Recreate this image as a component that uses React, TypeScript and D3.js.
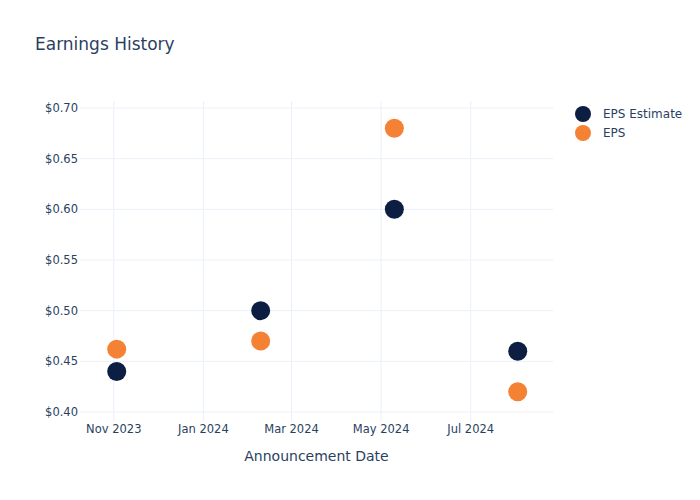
import React from "react";
import * as d3 from "d3";

const dates = ["2023-11-03", "2024-02-09", "2024-05-10", "2024-08-02"];
const epsEstimate = [0.44, 0.5, 0.6, 0.46];
const eps = [0.462, 0.47, 0.68, 0.42];
const yTicks = [0.4, 0.45, 0.5, 0.55, 0.6, 0.65, 0.7];
const xTickDates = ["2023-11-01", "2024-01-01", "2024-03-01", "2024-05-01", "2024-07-01"];
const seriesNames = ["EPS Estimate", "EPS"];
const colors = ["#0c1f43", "#f58234"];

const W = 700, H = 500;
const left = 80, right = 553, top = 101, bottom = 421;
const parse = d3.utcParse("%Y-%m-%d");

export default function App() {
  const x = d3.scaleUtc()
    .domain([parse("2023-10-09")!, parse("2024-08-26")!])
    .range([left, right]);
  const y = d3.scaleLinear().domain([0.3911, 0.7069]).range([bottom, top]);
  const fmtX = d3.utcFormat("%b %Y");
  const font = "'DejaVu Sans', Verdana, sans-serif";
  const txt = "#2a3f5f";
  const series = [epsEstimate, eps];
  return (
    <svg width={W} height={H} style={{ position: "absolute", left: 0, top: 0, background: "#fff" }} fontFamily={font}>
      <text x={35} y={50} fontSize={17} fill={txt}>Earnings History</text>
      {xTickDates.map((d) => {
        const xx = x(parse(d)!);
        return (
          <g key={d}>
            <line x1={xx} x2={xx} y1={top} y2={bottom} stroke="#ebf0f8" strokeWidth={1} />
            <text x={xx} y={433} fontSize={11.5} fill={txt} textAnchor="middle">{fmtX(parse(d)!)}</text>
          </g>
        );
      })}
      {yTicks.map((t) => (
        <g key={t}>
          <line x1={left} x2={right} y1={y(t)} y2={y(t)} stroke="#ebf0f8" strokeWidth={1} />
          <text x={left - 2} y={y(t) + 4} fontSize={11.5} fill={txt} textAnchor="end">{"$" + t.toFixed(2)}</text>
        </g>
      ))}
      {series.map((s, si) => (
        <g key={si}>
          {s.map((v, i) => (
            <circle key={i} cx={x(parse(dates[i])!)} cy={y(v)} r={9.5} fill={colors[si]} />
          ))}
        </g>
      ))}
      <text x={(left + right) / 2} y={461} fontSize={14} fill={txt} textAnchor="middle">Announcement Date</text>
      {seriesNames.map((n, i) => (
        <g key={n}>
          <circle cx={583} cy={114 + i * 19} r={8} fill={colors[i]} />
          <text x={603} y={118 + i * 19} fontSize={12} fill={txt}>{n}</text>
        </g>
      ))}
    </svg>
  );
}
